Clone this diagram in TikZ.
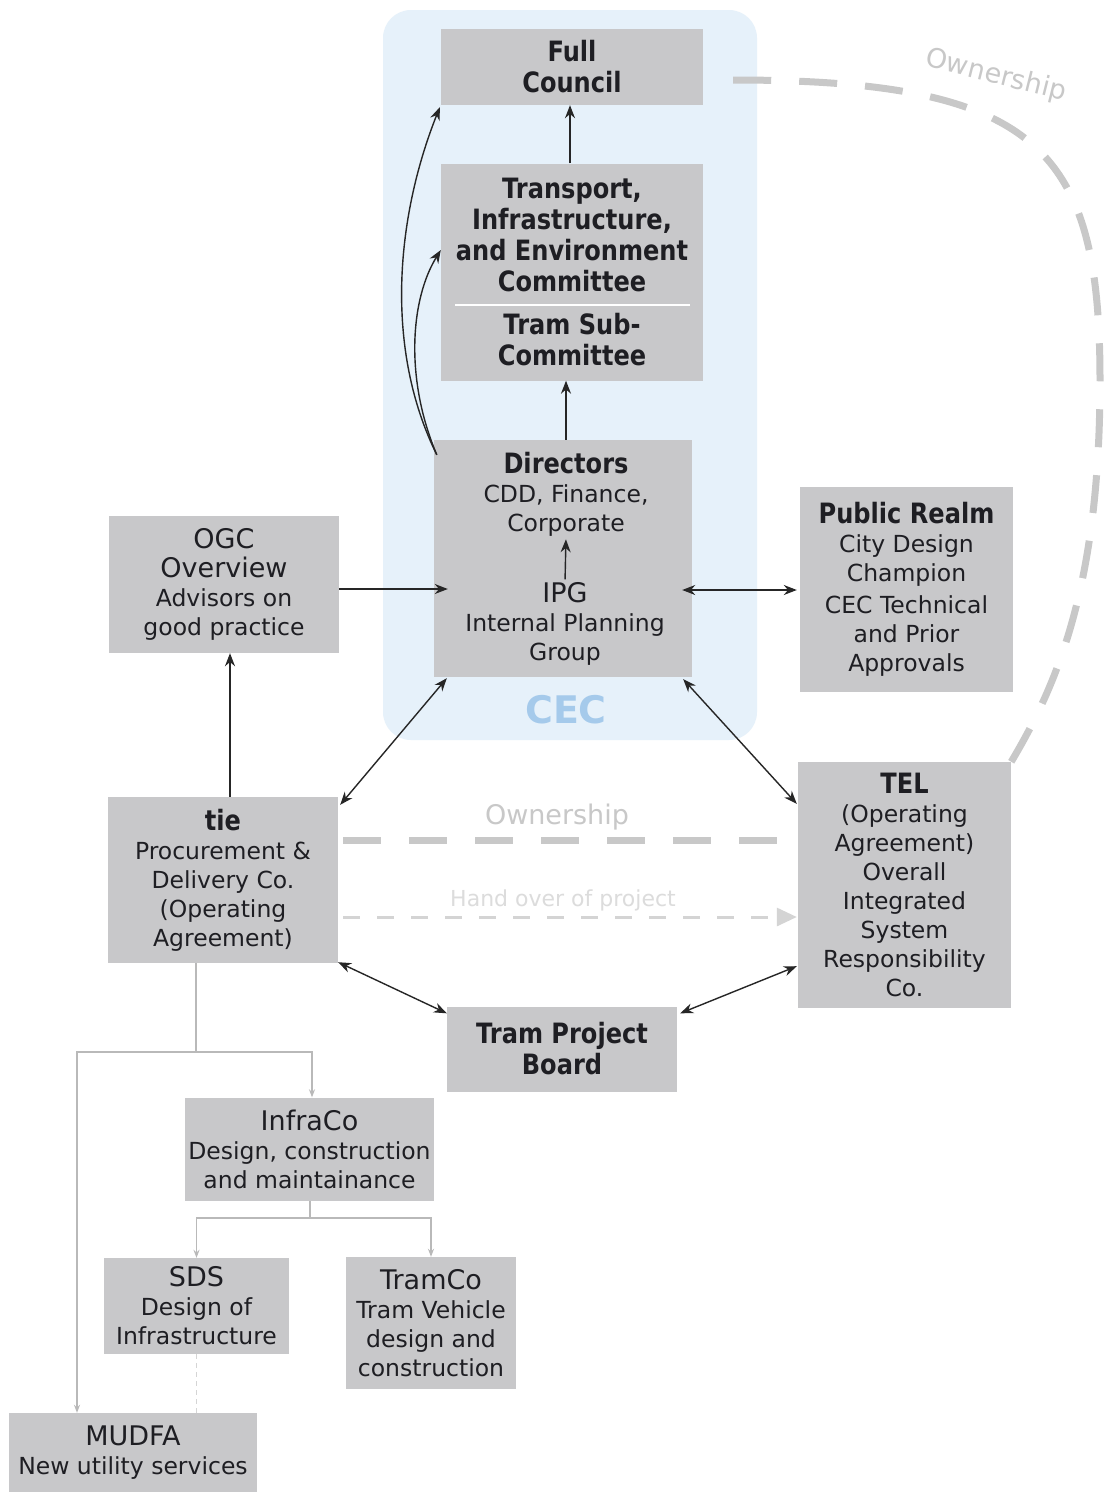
\documentclass[tikz,border=0pt]{standalone}
\usepackage{fontspec}
\setmainfont{DejaVu Sans}
\newfontfamily\hdfont{DejaVu Sans}[FakeStretch=0.86]
\usetikzlibrary{arrows.meta,calc}
\newcommand\myhd{\hdfont\bfseries\fontsize{28}{31}\selectfont}
\newcommand\mybd{\fontsize{23.5}{29}\selectfont}
\newcommand\myttl{\fontsize{27}{30}\selectfont}
\definecolor{boxgray}{RGB}{200,200,202}
\definecolor{cecblue}{RGB}{230,241,250}
\definecolor{cectext}{RGB}{165,202,235}
\definecolor{owngray}{RGB}{200,200,200}
\definecolor{handgray}{RGB}{212,212,212}
\definecolor{handtext}{RGB}{220,220,220}
\definecolor{treegray}{RGB}{185,185,185}
\definecolor{txt}{RGB}{30,30,35}
\begin{document}
\begin{tikzpicture}[x=1pt,y=-1pt,
  box/.style={fill=boxgray, inner sep=0pt, align=center, text=txt},
  txtn/.style={inner sep=0pt, align=center, text=txt},
  cecbg/.style={fill=cecblue, rounded corners=28pt, inner sep=0pt},
  arr/.style={-{Stealth[length=13pt,width=10pt]}, line width=1.4pt, draw=black!85},
  darr/.style={{Stealth[length=13pt,width=10pt]}-{Stealth[length=13pt,width=10pt]}, line width=1.4pt, draw=black!85},
  own/.style={draw=owngray, line width=7pt, dash pattern=on 38pt off 28pt},
  ownlbl/.style={text=owngray, font=\fontsize{27}{30}\selectfont, inner sep=0pt},
  hand/.style={draw=handgray, line width=3pt, dash pattern=on 17pt off 17pt, -{Triangle[length=20pt,width=18pt]}},
  handlbl/.style={text=handtext, font=\fontsize{22}{26}\selectfont, inner sep=0pt},
  tree/.style={draw=treegray, line width=1.1pt},
  treearr/.style={tree, -{Stealth[length=8pt,width=6pt]}}
]
\useasboundingbox (0,0) rectangle (1113,1492);
\fill[white] (0,0) rectangle (1113,1492);

% CEC background
\node[cecbg, minimum width=374pt, minimum height=730pt] (cec) at (570,375) {};
\node[text=cectext, font=\fontsize{38}{40}\selectfont\bfseries, inner sep=0pt] (ceclbl) at (566,710) {CEC};

% boxes
\node[box, font=\myhd, minimum width=262pt, minimum height=76pt] (fc) at (572,67) {Full\\Council};
\node[box, font=\myhd, minimum width=262pt, minimum height=217pt] (tiec) at (572,272)
  {Transport,\\Infrastructure,\\and Environment\\Committee\\[12pt]Tram Sub-\\Committee};
\draw[white, line width=1.5pt] ($(tiec.west)+(14,33)$) -- ($(tiec.east)+(-13,33)$);

\node[box, minimum width=258pt, minimum height=237pt] (dirbox) at (563,558.5) {};
\node[txtn, font=\mybd] (dir) at (566,494) {{\myhd Directors}\\CDD, Finance,\\Corporate};
\node[txtn, font=\mybd] (ipg) at (565,624) {{\myttl IPG}\\Internal Planning\\Group};

\node[box, font=\mybd, minimum width=230pt, minimum height=137pt] (ogc) at (224,584.5)
  {{\myttl OGC}\\{\myttl Overview}\\Advisors on\\good practice};
\node[box, font=\mybd, minimum width=213pt, minimum height=205pt] (pr) at (906.5,589.5)
  {{\myhd Public Realm}\\City Design\\Champion\\[3pt]CEC Technical\\and Prior\\Approvals};
\node[box, font=\mybd, minimum width=230pt, minimum height=166pt] (tie) at (223,880)
  {{\myhd tie}\\Procurement \&\\Delivery Co.\\(Operating\\Agreement)};
\node[box, font=\mybd, minimum width=213pt, minimum height=246pt] (tel) at (904.5,885)
  {{\myhd TEL}\\(Operating\\Agreement)\\Overall\\Integrated\\System\\Responsibility\\Co.};
\node[box, font=\myhd, minimum width=230pt, minimum height=85pt] (tpb) at (562,1049) {Tram Project\\Board};
\node[box, font=\mybd, minimum width=249pt, minimum height=103pt] (infra) at (309.5,1149)
  {{\myttl InfraCo}\\Design, construction\\and maintainance};
\node[box, font=\mybd, minimum width=185pt, minimum height=96pt] (sds) at (196.5,1306)
  {{\myttl SDS}\\Design of\\Infrastructure};
\node[box, font=\mybd, minimum width=170pt, minimum height=132pt] (tramco) at (431,1323)
  {{\myttl TramCo}\\Tram Vehicle\\design and\\construction};
\node[box, font=\mybd, minimum width=248pt, minimum height=79pt] (mudfa) at (133,1452.5)
  {{\myttl MUDFA}\\New utility services};

% black connectors
\draw[arr] (tiec.north -| 570,0) -- (fc.south -| 570,0);
\draw[arr] (dirbox.north -| dir) -- (tiec.south -| dir);
\draw[arr, shorten <=3pt, shorten >=3pt] (ipg.north) -- (dir.south);
\coordinate (cs) at ($(dirbox.north west)+(3,15)$);
\draw[arr] (cs) .. controls (385,350) and (395,220) .. ($(fc.south west)+(-1,2)$);
\draw[arr] (cs) .. controls (405,380) and (410,300) .. ($(tiec.west)+(0,-22)$);
\draw[arr] ($(ogc.east)+(0,4.5)$) -- ($(dirbox.west |- ogc.east)+(14,4.5)$);
\draw[darr] ($(dirbox.east)+(-10,31.5)$) -- ($(pr.west)+(-3,0.5)$);
\coordinate (og) at ($(ogc.south)+(6,0)$);
\draw[arr] (tie.north -| og) -- (og);
\draw[darr] ($(tie.north east)+(2,8)$) -- ($(dirbox.south west)+(13,1)$);
\draw[darr] ($(dirbox.south east)+(-9,2)$) -- ($(tel.north west)+(-1,42)$);
\draw[darr] ($(tie.south east)+(0,-1)$) -- ($(tpb.north west)+(0,7)$);
\draw[darr] ($(tel.south west)+(-1,-42)$) -- ($(tpb.north east)+(3,7)$);

% ownership and hand over
\draw[own] ($(tie.east)+(5,-40)$) -- ($(tel.west)+(-13,-45)$);
\node[ownlbl] (ownl) at (557,817) {Ownership};
\draw[hand] ($(tie.east)+(5,37)$) -- ($(tel.west)+(-1,32)$);
\node[handlbl] (handl) at (563,900) {Hand over of project};
\draw[own] ($(fc.east)+(30,13)$) .. controls (1040,80) and (1100,150) .. (1100,380)
   .. controls (1100,580) and (1060,680) .. (tel.north east);
\node[ownlbl, rotate=-14] (ownt) at (996,76) {Ownership};

% tree connectors
\coordinate (t1) at (196,1052);
\coordinate (t2) at (77,1052);
\coordinate (t3) at (310,1218);
\draw[tree] (tie.south -| t1) -- (t1);
\draw[treearr] (t1) -| ($(infra.north)+(2.5,0)$);
\draw[treearr] (t1) -- (t2) -- (t2 |- mudfa.north);
\draw[tree] (infra.south -| t3) -- (t3);
\draw[treearr] (t3) -| (sds.north);
\draw[treearr] (t3) -| (tramco.north);
\draw[tree, draw=treegray!60, dash pattern=on 5pt off 4pt] (sds.south) -- (sds.south |- mudfa.north);
\end{tikzpicture}
\end{document}
